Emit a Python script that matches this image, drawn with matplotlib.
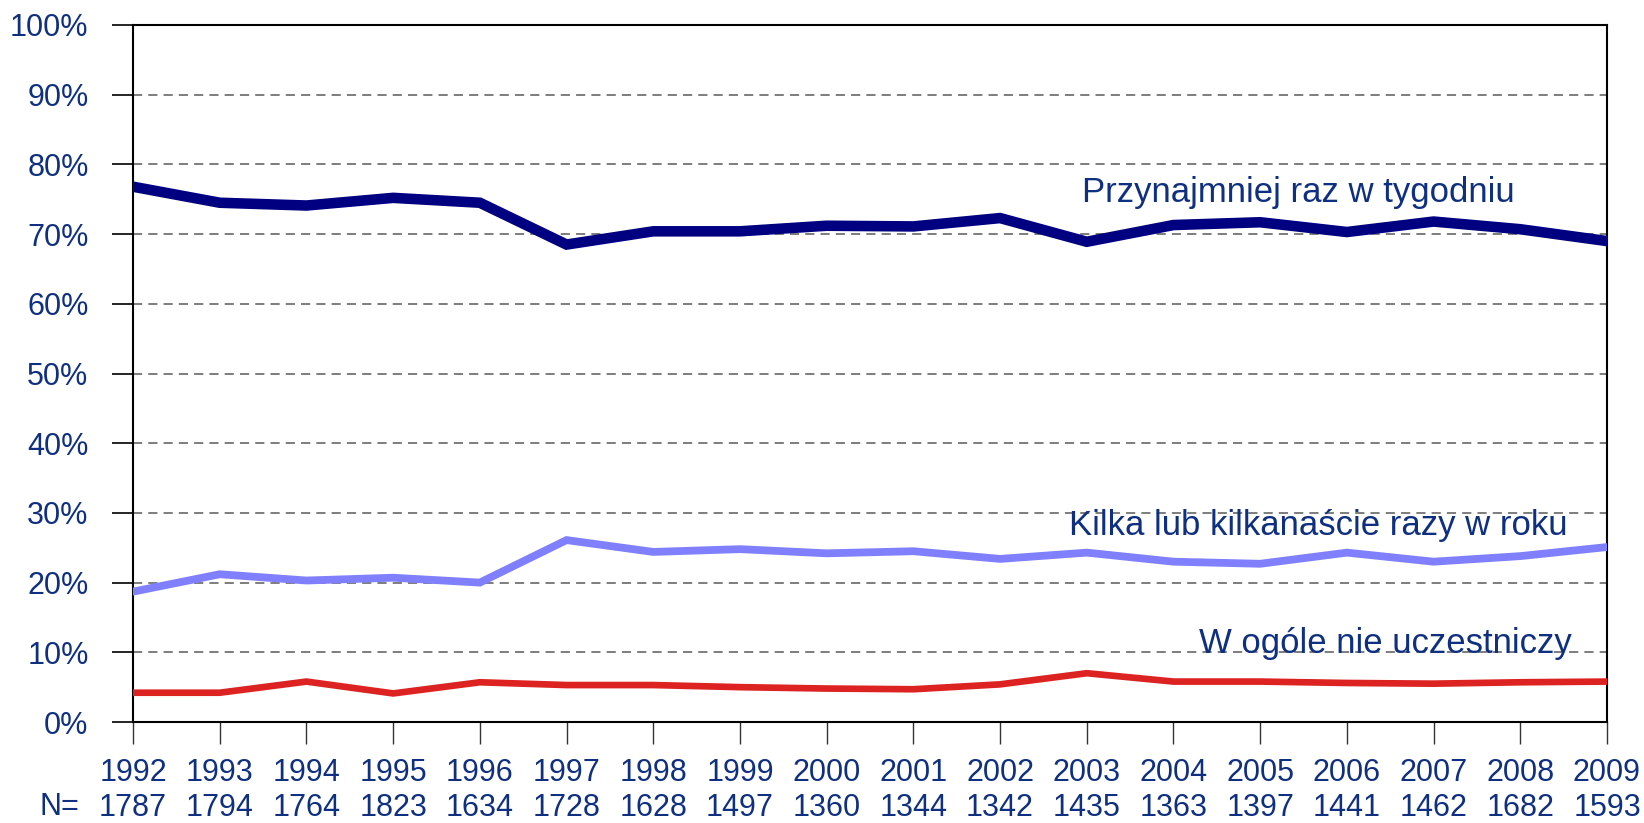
import matplotlib
matplotlib.use("Agg")
import matplotlib.pyplot as plt

plt.rcParams['font.family'] = ['Liberation Sans', 'DejaVu Sans']

years = list(range(1992, 2010))
n_values = [1787, 1794, 1764, 1823, 1634, 1728, 1628, 1497, 1360, 1344,
            1342, 1435, 1363, 1397, 1441, 1462, 1682, 1593]

weekly = [76.8, 74.5, 74.1, 75.2, 74.5, 68.5, 70.4, 70.4, 71.2, 71.1,
          72.3, 68.9, 71.3, 71.7, 70.3, 71.8, 70.7, 69.0]
yearly = [18.7, 21.2, 20.3, 20.7, 20.0, 26.1, 24.4, 24.8, 24.2, 24.5,
          23.4, 24.3, 23.0, 22.7, 24.3, 23.0, 23.8, 25.1]
never = [4.2, 4.2, 5.8, 4.1, 5.7, 5.3, 5.3, 5.0, 4.8, 4.7,
         5.4, 7.0, 5.8, 5.8, 5.6, 5.5, 5.7, 5.8]

series_labels = ["Przynajmniej raz w tygodniu",
                 "Kilka lub kilkanaście razy w roku",
                 "W ogóle nie uczestniczy"]

text_color = '#0F2F80'
fs = 22
fs_lab = 25

fig = plt.figure(figsize=(16.44, 8.23), dpi=100)
ax = fig.add_axes([133/1644, 1 - 722/823, (1607 - 133)/1644, (722 - 25)/823])

ax.plot(years, weekly, color='#000080', lw=7.6, solid_capstyle='round', solid_joinstyle='miter', zorder=3)
ax.plot(years, yearly, color='#8080FF', lw=5.6, solid_capstyle='round', solid_joinstyle='miter', zorder=3)
ax.plot(years, never, color='#DD2222', lw=4.8, solid_capstyle='round', solid_joinstyle='miter', zorder=3)

ax.set_xlim(years[0], years[-1])
ax.set_ylim(0, 100)

yt = list(range(0, 101, 10))
ax.set_yticks(yt)
ax.set_yticklabels([f"{v}%" for v in yt])
for v in yt[1:-1]:
    ax.axhline(v, color='#5a5a5a', lw=1.1, ls=(0, (6, 4)), zorder=1)

ax.set_xticks(years)
ax.set_xticklabels([f"{y}\n{n}" for y, n in zip(years, n_values)], linespacing=1.2)

ax.tick_params(axis='y', length=15, width=1.2, direction='out', pad=17,
               labelsize=fs, labelcolor=text_color, color='black')
ax.tick_params(axis='x', length=16, width=1.0, direction='out', pad=10,
               labelsize=fs, labelcolor=text_color, color='#333333')

for s in ax.spines.values():
    s.set_linewidth(1.5)
    s.set_color('black')

ax.text(-0.0366, -0.122, "N=", transform=ax.transAxes, fontsize=fs,
        color=text_color, ha='right', va='center')

ax.text(2002.95, 76.0, series_labels[0], fontsize=fs_lab, color=text_color, ha='left', va='center', zorder=4)
ax.text(2002.8, 28.2, series_labels[1], fontsize=fs_lab, color=text_color, ha='left', va='center', zorder=4)
ax.text(2004.3, 11.3, series_labels[2], fontsize=fs_lab, color=text_color, ha='left', va='center', zorder=4)

fig.savefig("out.png", dpi=100)
